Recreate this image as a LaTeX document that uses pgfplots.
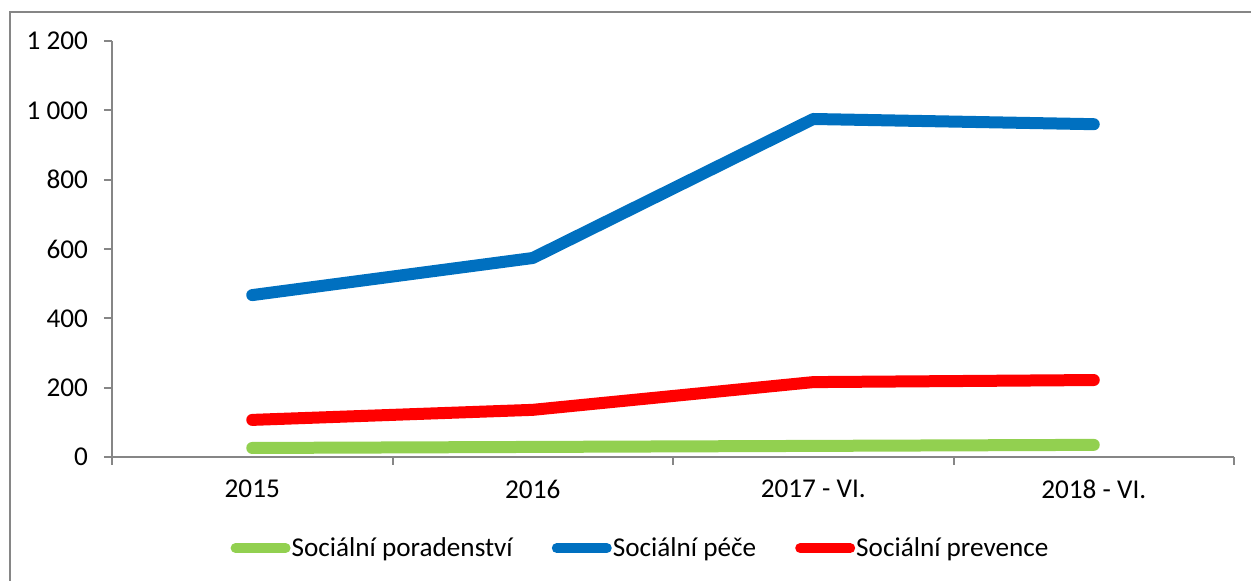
\documentclass[border=0pt]{standalone}
\usepackage{pgfplots}
\pgfplotsset{compat=1.18}
\usepackage{fontspec}
\setmainfont{Carlito}
\definecolor{cgreen}{HTML}{92D050}
\definecolor{cblue}{HTML}{0070C0}
\definecolor{cred}{HTML}{FF0000}
\definecolor{cgray}{HTML}{868686}
\begin{document}
\begin{tikzpicture}
\useasboundingbox (0,0) rectangle (625.5pt,290.5pt);
\draw[cgray, line width=1pt] (5pt,0pt) -- (5pt,284.5pt) -- (626pt,284.5pt);
\begin{axis}[
  at={(56pt,62pt)}, anchor=south west,
  scale only axis, width=561pt, height=208pt,
  xmin=-0.5, xmax=3.5, ymin=0, ymax=1200,
  axis x line=bottom, axis y line=left,
  axis line style={cgray, line width=1pt, -},
  xtick={0,1,2,3},
  xticklabels={2015,2016,2017 - VI.,2018 - VI.},
  minor xtick={-0.5,0.5,1.5,2.5,3.5},
  major x tick style={draw=none},
  minor x tick style={cgray, line width=1pt},
  minor tick length=4pt,
  ytick={0,200,400,600,800,1000,1200},
  yticklabels={0,200,400,600,800,1 000,1 200},
  major tick length=4pt,
  y tick style={cgray, line width=1pt},
  tick align=outside,
  ticklabel style={font=\fontsize{13.6}{15}\selectfont, text=black},
  x tick label style={yshift=-4pt},
  y tick label style={xshift=-4.5pt},
  clip=false,
  legend style={at={(0.4706,-0.219)}, anchor=center, draw=none, fill=none,
    legend columns=-1, font=\fontsize{13.6}{15}\selectfont,
    /tikz/every even column/.append style={column sep=19pt},
    /tikz/every odd column/.append style={column sep=0pt},
    inner sep=0pt, nodes={inner sep=0.5pt}},
  legend image code/.code={\draw[#1, line width=5pt, line cap=round] (2.5pt,0pt) -- (27.5pt,0pt);},
  legend cell align=left,
]
\addplot[cgreen, line width=6pt, line cap=round, line join=round] coordinates {(0,26) (1,29) (2,32) (3,35)};
\addlegendentry{Sociální poradenství}
\addplot[cblue, line width=6pt, line cap=round, line join=round] coordinates {(0,467) (1,574) (2,975) (3,960)};
\addlegendentry{Sociální péče}
\addplot[cred, line width=6pt, line cap=round, line join=round] coordinates {(0,107) (1,136) (2,216) (3,222)};
\addlegendentry{Sociální prevence}
\end{axis}
\end{tikzpicture}
\end{document}
